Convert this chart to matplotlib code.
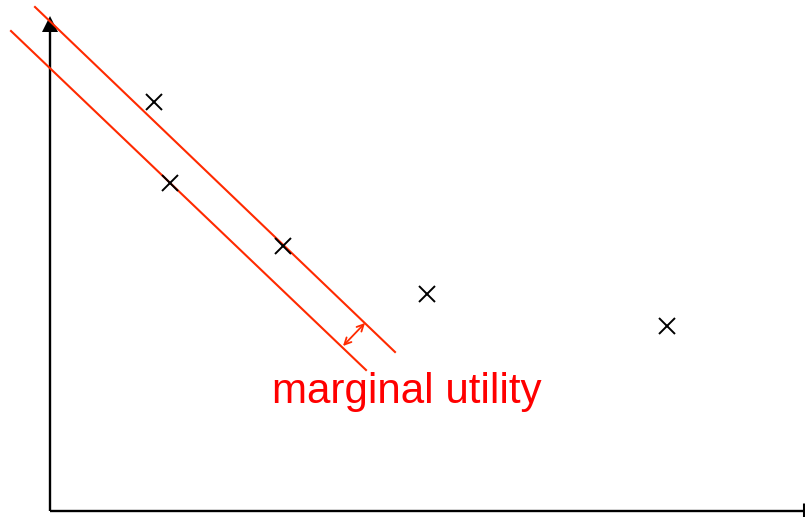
import matplotlib.pyplot as plt

# observed points (x, y) in chart units, origin at the axes corner
pts_x = [104, 120, 233, 377, 617]
pts_y = [409, 328, 265, 217, 185]

# two parallel lines
upper_x = [-15, 345]
upper_y = [504, 159]
lower_x = [-39, 316]
lower_y = [480, 141]

# marginal utility arrow between lines
arrow_start = (293, 165)
arrow_end = (315, 188)
label = "marginal utility"
label_pos = (357, 108)

x_end = 754
y_end = 495

fig = plt.figure(figsize=(8.05, 5.17), dpi=100)
ax = fig.add_axes([0, 0, 1, 1])
ax.set_xlim(-50, 755)
ax.set_ylim(-6, 511)
ax.axis('off')

# axes drawn by hand
ax.plot([0, 0], [0, y_end - 14], color='black', lw=1.7, solid_capstyle='butt')
ax.plot([0, x_end], [0, 0], color='black', lw=1.7, solid_capstyle='butt')
ax.plot([x_end, x_end], [-6, 8], color='black', lw=2.2, solid_capstyle='butt')
ax.fill([-8, 8, 0], [y_end - 16, y_end - 16, y_end], color='black', lw=0)

red = '#ff2a00'
ax.plot(upper_x, upper_y, color=red, lw=1.5)
ax.plot(lower_x, lower_y, color=red, lw=1.5)
ax.annotate('', xy=arrow_end, xytext=arrow_start,
            arrowprops=dict(arrowstyle='<->', color=red, lw=1.3,
                            shrinkA=0, shrinkB=0, mutation_scale=12))

ax.plot(pts_x, pts_y, linestyle='none', marker='x', markersize=12,
        markeredgewidth=1.4, color='black')

ax.text(label_pos[0], label_pos[1], label, color='#ff0000', fontsize=30.3,
        family='Liberation Sans', ha='center', va='baseline')

fig.savefig('out.png', dpi=100)
